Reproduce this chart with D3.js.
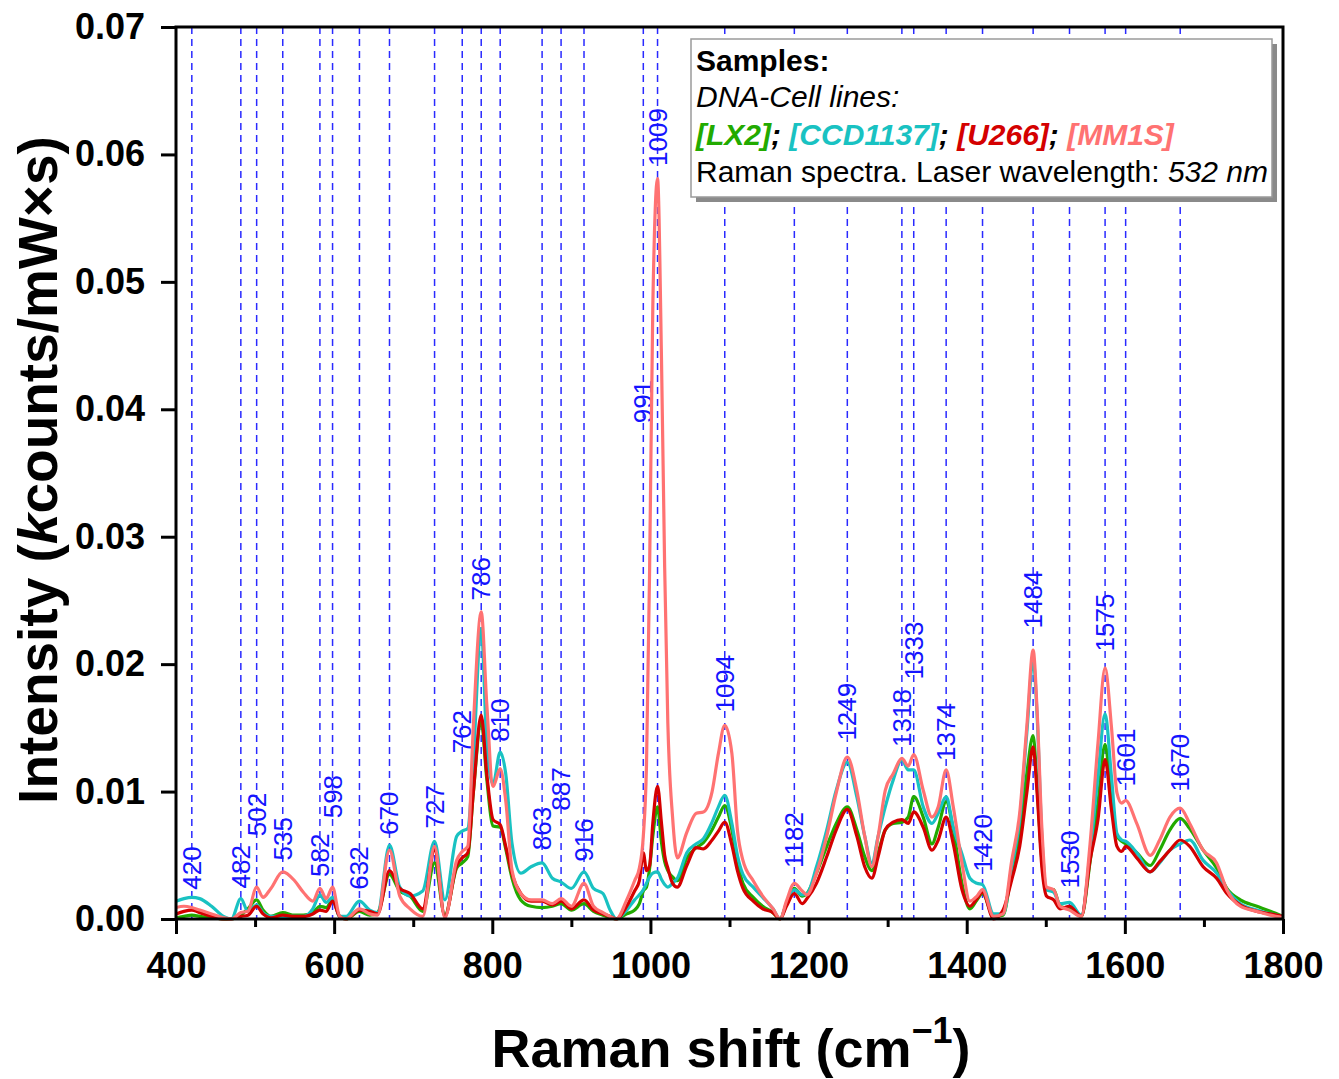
<!DOCTYPE html>
<html>
<head>
<meta charset="utf-8">
<script src="https://cdn.jsdelivr.net/npm/d3@7"></script>
<style>
  body { margin: 0; background: #fff; }
  svg { display: block; font-family: "Liberation Sans", Arial, sans-serif; }
</style>
</head>
<body>
<div id="chart"></div>
<script>
// Raman shift grid (cm-1)
var shift = [
  400,410,420,430,445,460,470,482,491,502,
  510,520,535,550,561,573,582,590,598,607,
  615,632,645,655,670,683,696,712,727,740,
  755,762,769,776,786,793,801,810,817,825,
  836,849,863,876,887,900,916,928,940,949,
  957,970,980,986,991,995,999,1003,1009,1014,
  1018,1022,1028,1034,1046,1058,1067,1078,1086,1094,
  1103,1110,1117,1130,1142,1155,1164,1172,1182,1192,
  1198,1210,1223,1235,1249,1261,1271,1280,1288,1297,
  1307,1318,1326,1333,1345,1356,1364,1374,1383,1394,
  1404,1413,1420,1434,1446,1457,1467,1476,1484,1489,
  1495,1501,1510,1518,1530,1545,1556,1566,1575,1583,
  1590,1596,1601,1615,1632,1644,1657,1670,1682,1699,
  1716,1729,1746,1767,1784,1800
];

var lx2 = [
  .0001,.0002,.0003,.0002,.0001,0,0,.0003,.0008,.0015,
  .0007,.0002,.0005,.0003,.0003,.0005,.0010,.0009,.0015,.0002,
  0,.0006,.0003,.0005,.0035,.0022,.0018,.0006,.0044,.0003,
  .0040,.0044,.0049,.0099,.0155,.0110,.0073,.0072,.0055,.0032,
  .0015,.0010,.0009,.0010,.0012,.0007,.0012,.0006,.0003,.0001,
  0,.0004,.0007,.0012,.0022,.0025,.0040,.0065,.0088,.0060,
  .0045,.0038,.0033,.0030,.0048,.0056,.0060,.0070,.0080,.0089,
  .0070,.0045,.0028,.0017,.0010,.0005,0,.0012,.0024,.0018,
  .0020,.0036,.0057,.0075,.0088,.0070,.0049,.0038,.0052,.0070,
  .0075,.0076,.0080,.0096,.0080,.0059,.0072,.0092,.0070,.0028,
  .0008,.0015,.0020,.0002,.0003,.0038,.0067,.0114,.0144,.0104,
  .0046,.0023,.0023,.0010,.0008,.0002,.0045,.0091,.0137,.0093,
  .0065,.0061,.0059,.0052,.0042,.0054,.0070,.0079,.0071,.0054,
  .0040,.0024,.0015,.0010,.0006,.0002
];

var ccd1137 = [
  .0014,.0016,.0017,.0016,.0010,.0002,0,.0016,.0006,.0011,
  .0005,.0002,.0002,.0002,.0002,.0008,.0019,.0013,.0017,.0002,
  .0002,.0014,.0007,.0005,.0058,.0025,.0018,.0022,.0061,.0015,
  .0065,.0069,.0071,.0125,.0228,.0138,.0106,.0131,.0114,.0059,
  .0036,.0041,.0044,.0032,.0029,.0024,.0037,.0024,.0020,.0007,
  0,.0007,.0015,.0019,.0023,.0028,.0033,.0036,.0037,.0031,
  .0027,.0025,.0028,.0032,.0052,.0059,.0063,.0076,.0088,.0097,
  .0075,.0050,.0035,.0025,.0017,.0008,0,.0012,.0023,.0019,
  .0020,.0041,.0070,.0101,.0123,.0096,.0065,.0044,.0065,.0088,
  .0109,.0125,.0117,.0117,.0088,.0075,.0083,.0096,.0072,.0051,
  .0032,.0028,.0027,.0004,.0004,.0041,.0078,.0146,.0203,.0160,
  .0065,.0023,.0021,.0012,.0013,.0003,.0052,.0112,.0161,.0112,
  .0067,.0062,.0061,.0052,.0037,.0044,.0054,.0059,.0062,.0046,
  .0036,.0023,.0012,.0007,.0004,.0002
];

var u266 = [
  .0004,.0006,.0007,.0005,.0002,0,0,.0002,.0003,.0010,
  .0004,.0001,.0003,.0002,.0002,.0004,.0007,.0006,.0014,.0002,
  0,.0007,.0006,.0004,.0038,.0024,.0020,.0008,.0054,.0002,
  .0042,.0048,.0052,.0099,.0160,.0114,.0078,.0074,.0057,.0035,
  .0020,.0014,.0014,.0011,.0014,.0008,.0015,.0007,.0004,.0002,
  0,.0010,.0022,.0030,.0052,.0038,.0042,.0075,.0104,.0075,
  .0050,.0040,.0028,.0025,.0042,.0056,.0055,.0062,.0069,.0076,
  .0058,.0038,.0024,.0014,.0008,.0005,0,.0010,.0020,.0012,
  .0016,.0028,.0049,.0070,.0086,.0065,.0041,.0032,.0049,.0070,
  .0076,.0078,.0075,.0084,.0072,.0054,.0062,.0080,.0059,.0023,
  .0010,.0016,.0021,0,.0007,.0031,.0057,.0099,.0135,.0099,
  .0041,.0018,.0015,.0008,.0010,.0002,.0046,.0078,.0125,.0086,
  .0057,.0053,.0057,.0048,.0037,.0045,.0054,.0062,.0057,.0041,
  .0032,.0020,.0011,.0006,.0004,.0002
];

var mm1s = [
  .0009,.0010,.0009,.0007,.0004,.0001,0,.0005,.0006,.0025,
  .0017,.0024,.0037,.0030,.0021,.0014,.0024,.0016,.0025,.0002,
  0,.0008,.0004,.0003,.0054,.0018,.0008,.0002,.0057,.0001,
  .0046,.0053,.0057,.0151,.0241,.0169,.0104,.0118,.0093,.0038,
  .0020,.0015,.0015,.0012,.0016,.0010,.0028,.0010,.0005,.0002,
  0,.0015,.0030,.0040,.0065,.0120,.0276,.0480,.0581,.0439,
  .0276,.0154,.0080,.0048,.0068,.0083,.0084,.0100,.0130,.0152,
  .0130,.0070,.0046,.0030,.0018,.0008,0,.0014,.0028,.0022,
  .0019,.0036,.0065,.0099,.0127,.0101,.0065,.0041,.0065,.0101,
  .0114,.0126,.0120,.0129,.0101,.0080,.0088,.0117,.0088,.0044,
  .0014,.0018,.0023,.0002,.0004,.0046,.0083,.0151,.0211,.0164,
  .0072,.0025,.0023,.0010,.0007,.0002,.0059,.0138,.0197,.0151,
  .0099,.0091,.0093,.0075,.0050,.0062,.0080,.0087,.0075,.0054,
  .0044,.0023,.0010,.0006,.0003,.0001
];

// marked peaks and where their labels start (intensity units)
var peaks   = [420,482,502,535,582,598,632,670,727,762,786,810,863,887,916,991,1009,1094,1182,1249,1318,1333,1374,1420,1484,1530,1575,1601,1670];
var labelAt = [.0023,.0024,.0065,.0046,.0033,.0079,.0023,.0066,.0071,.0130,.0250,.0139,.0054,.0085,.0045,.0389,.0591,.0162,.0040,.0140,.0135,.0188,.0124,.0037,.0228,.0024,.0210,.0104,.0100];

var xTicks = [400,600,800,1000,1200,1400,1600,1800];
var xMinor = [500,700,900,1100,1300,1500,1700];
var yTicks = [0,0.01,0.02,0.03,0.04,0.05,0.06,0.07];

var seriesNames = ["LX2","CCD1137","U266","MM1S"];
var seriesData = [lx2, ccd1137, u266, mm1s];
var seriesColors = ["#22aa00","#19c2c2","#d40000","#ff7272"];

var svgWidth = 1339, svgHeight = 1079;
var margin = { top: 27, right: 56, bottom: 160, left: 176 };
var chartWidth = svgWidth - margin.left - margin.right;
var chartHeight = svgHeight - margin.top - margin.bottom;

var svg = d3.select("#chart").append("svg")
    .attr("width", svgWidth)
    .attr("height", svgHeight);

var chartGroup = svg.append("g")
    .attr("transform", `translate(${margin.left}, ${margin.top})`);

var xScale = d3.scaleLinear().domain([400, 1800]).range([0, chartWidth]);
var yScale = d3.scaleLinear().domain([0, 0.07]).range([chartHeight, 0]);

// dashed peak markers
chartGroup.selectAll(".peak")
    .data(peaks)
    .enter().append("line")
    .attr("x1", d => xScale(d)).attr("x2", d => xScale(d))
    .attr("y1", 0).attr("y2", chartHeight)
    .attr("stroke", "#2a2aff")
    .attr("stroke-width", 1.5)
    .attr("stroke-dasharray", "7,5");

// peak labels
chartGroup.selectAll(".peakLabel")
    .data(peaks)
    .enter().append("text")
    .attr("transform", (d, i) => `translate(${xScale(d)}, ${yScale(labelAt[i])}) rotate(-90)`)
    .attr("dominant-baseline", "central")
    .attr("text-anchor", "start")
    .attr("font-size", 26)
    .attr("fill", "#1414ff")
    .text(d => d);

// spectra
var line = d3.line()
    .x((d, i) => xScale(shift[i]))
    .y(d => yScale(d))
    .curve(d3.curveMonotoneX);

seriesData.forEach(function (values, k) {
    chartGroup.append("path")
        .datum(values)
        .attr("fill", "none")
        .attr("stroke", seriesColors[k])
        .attr("stroke-width", 3.2)
        .attr("stroke-linejoin", "round")
        .attr("d", line);
});

// axes
var xAxis = d3.axisBottom(xScale).tickValues(xTicks).tickFormat(d3.format("d"))
    .tickSize(15).tickSizeOuter(0).tickPadding(18);
var xAxisMinor = d3.axisBottom(xScale).tickValues(xMinor).tickFormat("")
    .tickSize(8).tickSizeOuter(0);
var yAxis = d3.axisLeft(yScale).tickValues(yTicks).tickFormat(d3.format(".2f"))
    .tickSize(15).tickSizeOuter(0).tickPadding(16);

var gx = chartGroup.append("g").attr("transform", `translate(0, ${chartHeight})`).call(xAxis);
var gxm = chartGroup.append("g").attr("transform", `translate(0, ${chartHeight})`).call(xAxisMinor);
var gy = chartGroup.append("g").call(yAxis);

[gx, gxm, gy].forEach(function (g) {
    g.selectAll("line").attr("stroke", "#000").attr("stroke-width", 3);
    g.select(".domain").remove();
    g.selectAll("text")
        .attr("fill", "#000")
        .attr("font-size", 36)
        .attr("font-weight", "bold")
        .attr("font-family", "Liberation Sans, Arial, sans-serif");
});

// frame
chartGroup.append("rect")
    .attr("x", 0).attr("y", 0)
    .attr("width", chartWidth).attr("height", chartHeight)
    .attr("fill", "none")
    .attr("stroke", "#000")
    .attr("stroke-width", 3);

// axis titles
var xTitle = svg.append("text")
    .attr("x", 731)
    .attr("y", 1067)
    .attr("text-anchor", "middle")
    .attr("font-size", 54)
    .attr("font-weight", "bold");
xTitle.append("tspan").text("Raman shift (cm");
xTitle.append("tspan").attr("font-size", 36).attr("dy", -24).text("\u22121");
xTitle.append("tspan").attr("dy", 24).text(")");

var yTitle = svg.append("text")
    .attr("transform", `translate(57, 470) rotate(-90)`)
    .attr("text-anchor", "middle")
    .attr("font-size", 55)
    .attr("font-weight", "bold");
yTitle.append("tspan").text("Intensity (");
yTitle.append("tspan").attr("font-style", "italic").text("k");
yTitle.append("tspan").text("counts/mW\u00d7s)");

// legend box
var legend = svg.append("g").attr("transform", "translate(691, 39)");
legend.append("rect")
    .attr("x", 5).attr("y", 5).attr("width", 581).attr("height", 158)
    .attr("fill", "#8a8a8a");
legend.append("rect")
    .attr("x", 0).attr("y", 0).attr("width", 581).attr("height", 158)
    .attr("fill", "#fff").attr("stroke", "#9a9a9a").attr("stroke-width", 1.5);

legend.append("text").attr("x", 5).attr("y", 32)
    .attr("font-size", 30).attr("font-weight", "bold").text("Samples:");
legend.append("text").attr("x", 5).attr("y", 68)
    .attr("font-size", 30).attr("font-style", "italic").text("DNA-Cell lines:");

var names = legend.append("text").attr("x", 5).attr("y", 106)
    .attr("font-size", 30).attr("font-weight", "bold").attr("font-style", "italic");
seriesNames.forEach(function (n, k) {
    names.append("tspan").attr("fill", seriesColors[k]).text("[" + n + "]");
    if (k < seriesNames.length - 1) names.append("tspan").attr("fill", "#000").text("; ");
});

var laser = legend.append("text").attr("x", 5).attr("y", 143).attr("font-size", 30);
laser.append("tspan").text("Raman spectra. Laser wavelength: ");
laser.append("tspan").attr("font-style", "italic").text("532 nm");
</script>
</body>
</html>
